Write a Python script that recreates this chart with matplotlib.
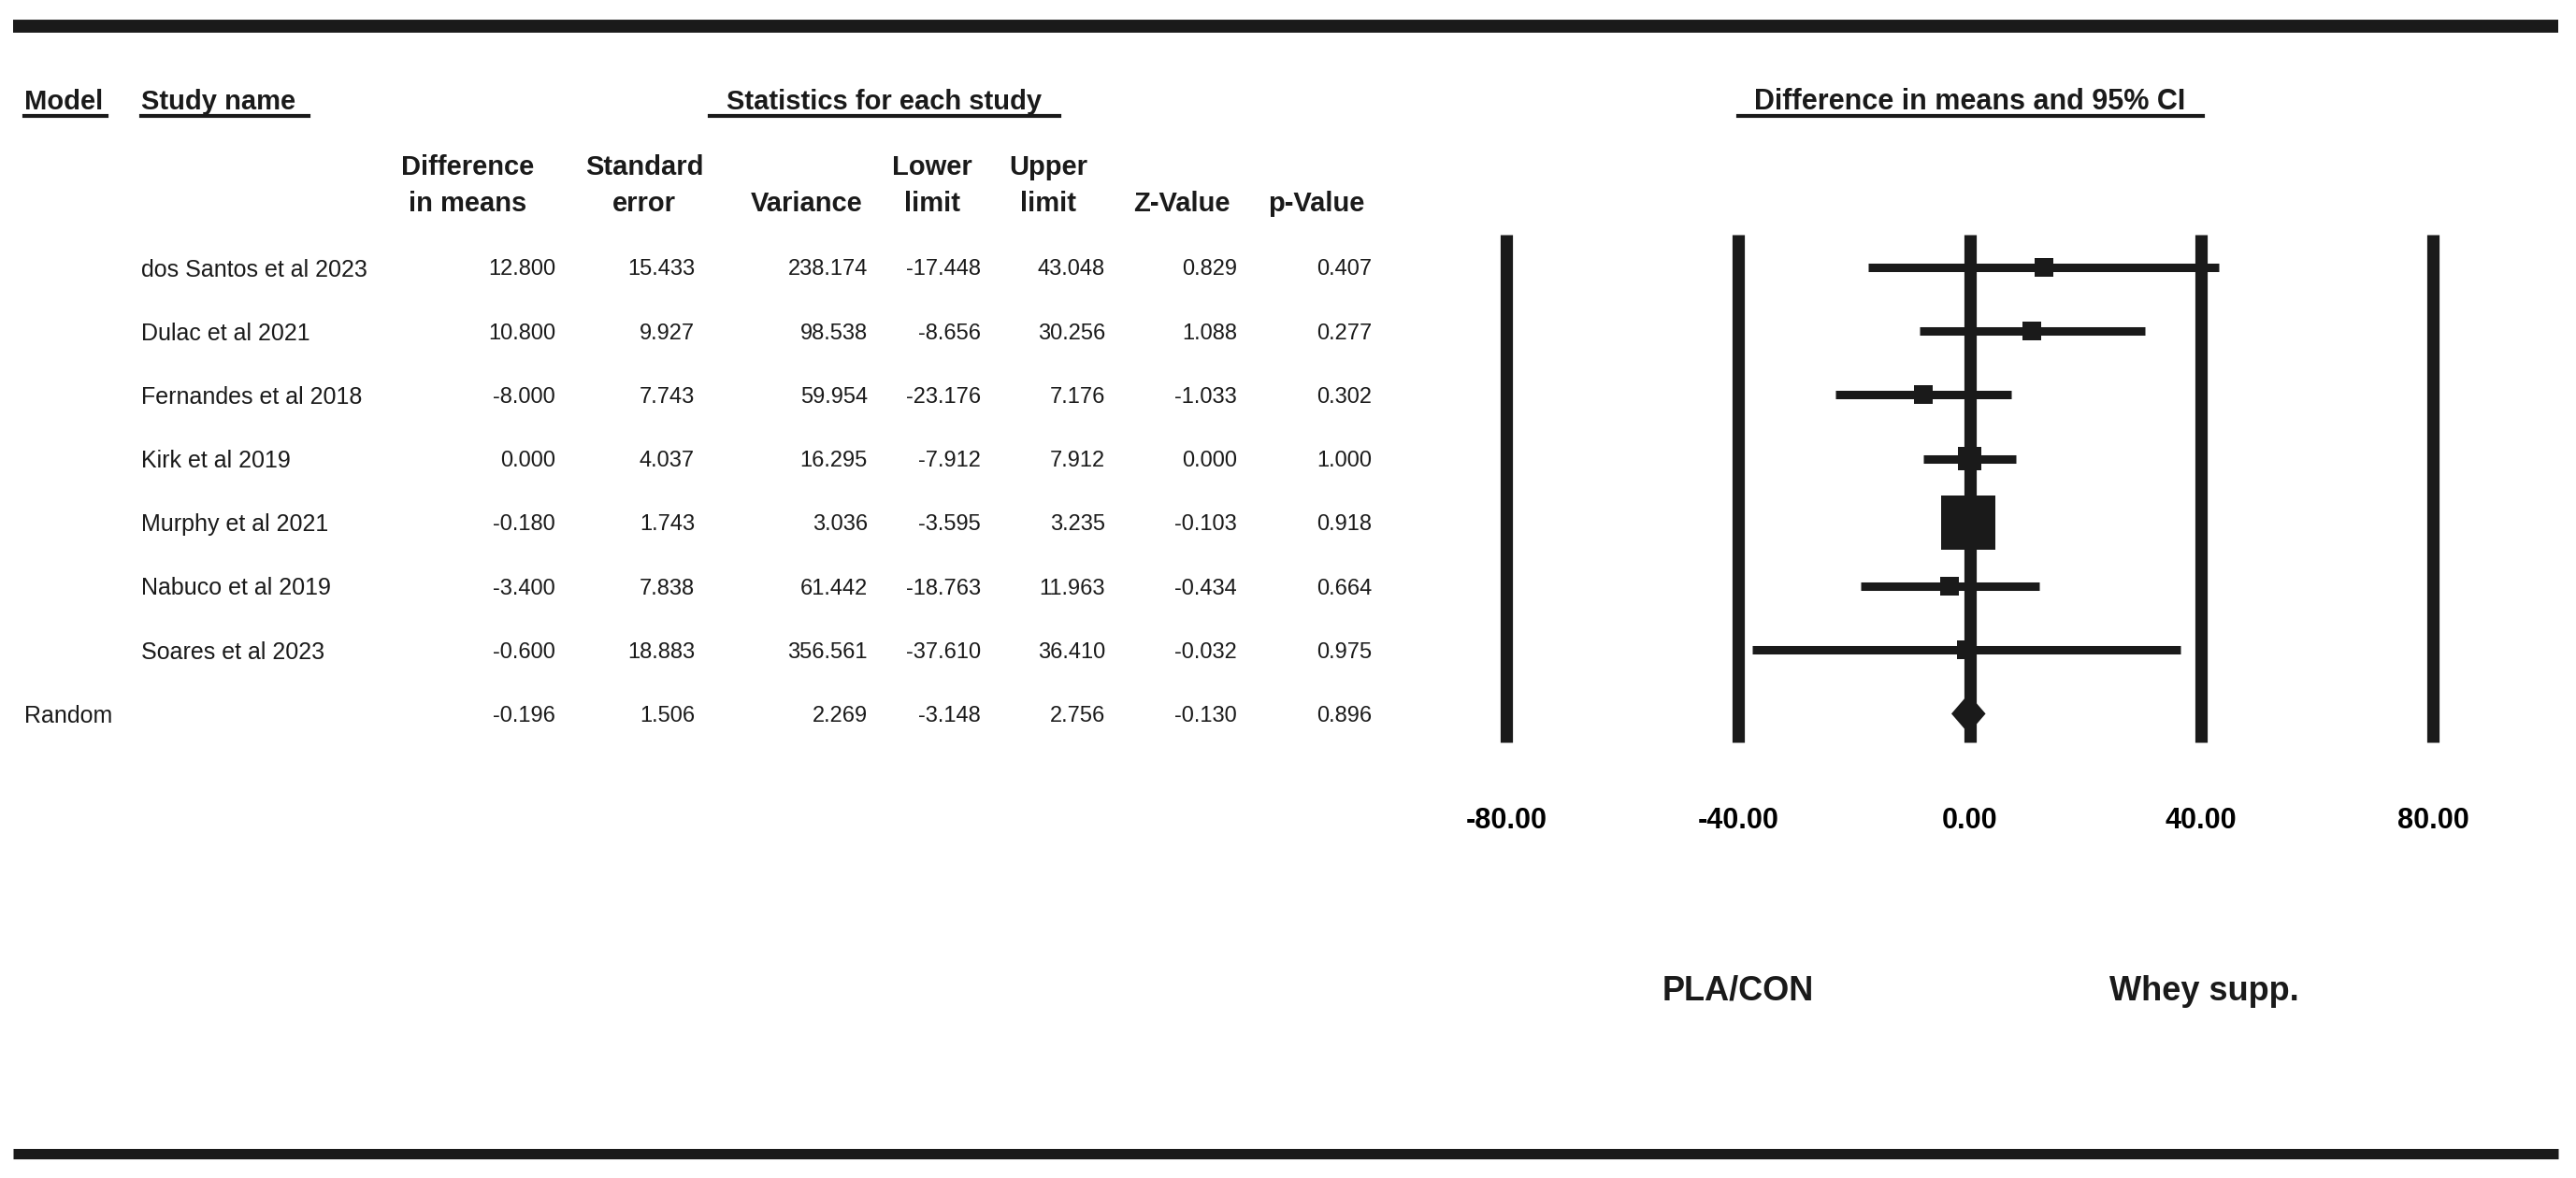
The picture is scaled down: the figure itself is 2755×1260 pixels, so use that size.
import matplotlib
matplotlib.use("Agg")
import matplotlib.pyplot as plt
from matplotlib.lines import Line2D
from matplotlib import font_manager as fm
import numpy as np

studies = ["dos Santos et al 2023", "Dulac et al 2021", "Fernandes et al 2018", "Kirk et al 2019",
           "Murphy et al 2021", "Nabuco et al 2019", "Soares et al 2023"]
diff = [12.800, 10.800, -8.000, 0.000, -0.180, -3.400, -0.600]
se = [15.433, 9.927, 7.743, 4.037, 1.743, 7.838, 18.883]
variance = [238.174, 98.538, 59.954, 16.295, 3.036, 61.442, 356.561]
lower = [-17.448, -8.656, -23.176, -7.912, -3.595, -18.763, -37.610]
upper = [43.048, 30.256, 7.176, 7.912, 3.235, 11.963, 36.410]
zval = [0.829, 1.088, -1.033, 0.000, -0.103, -0.434, -0.032]
pval = [0.407, 0.277, 0.302, 1.000, 0.918, 0.664, 0.975]

pooled_label = "Random"
pooled = [-0.196, 1.506, 2.269, -3.148, 2.756, -0.130, 0.896]

xticks = [-80, -40, 0, 40, 80]
header_top = ["Difference", "Standard", "", "Lower", "Upper", "", ""]
header_bottom = ["in means", "error", "Variance", "limit", "limit", "Z-Value", "p-Value"]

W, H = 2755, 1260
DPI = 100
INK = "#1a1a1a"
BOLD = ["Liberation Sans", "DejaVu Sans"]

# pick a narrow face for the table body if one is installed
narrow = None
for f in fm.fontManager.ttflist:
    if f.name in ("Liberation Sans Narrow", "Arial Narrow") and f.weight in (400, "normal", "regular"):
        narrow = f.fname
        break
if narrow is not None:
    BODY = dict(fontproperties=fm.FontProperties(fname=narrow))
else:
    BODY = dict(family=["Liberation Sans", "DejaVu Sans"])


def fx(px):
    return px / W


def fy(py):
    return 1 - py / H


fig = plt.figure(figsize=(W / DPI, H / DPI), dpi=DPI)

# row geometry shared by table and forest plot
row0, row_step = 286, 68.2
ax_top, ax_bot = 251, 794
ylim = ((ax_bot - row0) / row_step, -(row0 - ax_top) / row_step)
n = len(studies)
rows = np.arange(n + 1)

# forest plot
ax = fig.add_axes([fx(1611), fy(ax_bot), fx(2602 - 1611), (ax_bot - ax_top) / H])
ax.set_xlim(-80, 80)
ax.set_ylim(*ylim)
for s in ax.spines.values():
    s.set_visible(False)
ax.set_yticks([])
ax.set_xticks(xticks)
ax.set_xticklabels([f"{t:.2f}" for t in xticks], fontsize=22, fontweight="bold", family=BOLD)
ax.tick_params(axis="x", length=0, pad=50)
for t in xticks:
    ax.axvline(t, color=INK, lw=9.5, clip_on=False, solid_capstyle="butt", zorder=1)

ax.hlines(rows[:n], lower, upper, color=INK, lw=6.5, zorder=2)
w = 1 / np.array(variance)
side_px = np.maximum(20, 58 * np.sqrt(w / w.max()))
ax.scatter(diff, rows[:n], s=(side_px * 72 / DPI) ** 2, marker="s", color=INK, lw=0, zorder=3)

est, lo, hi = pooled[0], pooled[3], pooled[4]
ax.fill([lo, est, hi, est], [rows[n], rows[n] - 0.31, rows[n], rows[n] + 0.31], color=INK, lw=0, zorder=3)

# table
tax = fig.add_axes([0, fy(ax_bot), 1, (ax_bot - ax_top) / H])
tax.set_xlim(0, W)
tax.set_ylim(*ylim)
tax.axis("off")

num_right = [594, 743, 928, 1049, 1182, 1323, 1467]
head_center = [500, 689, 863, 997, 1121, 1264, 1408]
cols = [diff, se, variance, lower, upper, zval, pval]
name_size = 20 if narrow else 18
num_size = 19 if narrow else 17

for i, name in enumerate(studies):
    tax.text(151, rows[i], name, ha="left", va="center_baseline", fontsize=name_size, color=INK, **BODY)
    for c, vals in enumerate(cols):
        tax.text(num_right[c], rows[i], f"{vals[i]:.3f}", ha="right", va="center_baseline",
                 fontsize=num_size, color=INK, **BODY)
tax.text(26, rows[n], pooled_label, ha="left", va="center_baseline", fontsize=name_size, color=INK, **BODY)
for c, v in enumerate(pooled):
    tax.text(num_right[c], rows[n], f"{v:.3f}", ha="right", va="center_baseline",
             fontsize=num_size, color=INK, **BODY)

hkw = dict(fontsize=21, fontweight="bold", family=BOLD, color=INK)
for c in range(len(cols)):
    if header_top[c]:
        fig.text(fx(head_center[c]), fy(179), header_top[c], ha="center", va="center", **hkw)
    fig.text(fx(head_center[c]), fy(218), header_bottom[c], ha="center", va="center", **hkw)

fig.text(fx(26), fy(109), "Model", ha="left", va="center", **hkw)
fig.text(fx(151), fy(109), "Study name", ha="left", va="center", **hkw)
fig.text(fx(946), fy(109), "Statistics for each study", ha="center", va="center", **hkw)
fig.text(fx(2107), fy(109), "Difference in means and 95% CI", ha="center", va="center",
         **{**hkw, "fontsize": 22})
for x0, x1 in [(26, 114), (151, 330), (759, 1133), (1859, 2356)]:
    fig.add_artist(Line2D([fx(x0), fx(x1)], [fy(124), fy(124)], color=INK, lw=3))

fig.text(fx(1859), fy(1060), "PLA/CON", ha="center", va="center", fontsize=26, fontweight="bold", family=BOLD, color=INK)
fig.text(fx(2357), fy(1060), "Whey supp.", ha="center", va="center", fontsize=26, fontweight="bold", family=BOLD, color=INK)

# heavy rules at top and bottom
fig.add_artist(Line2D([fx(14), fx(2736)], [fy(28), fy(28)], color=INK, lw=10, solid_capstyle="butt"))
fig.add_artist(Line2D([fx(14), fx(2736)], [fy(1234), fy(1234)], color=INK, lw=8, solid_capstyle="butt"))

fig.savefig("out.png", dpi=DPI)
